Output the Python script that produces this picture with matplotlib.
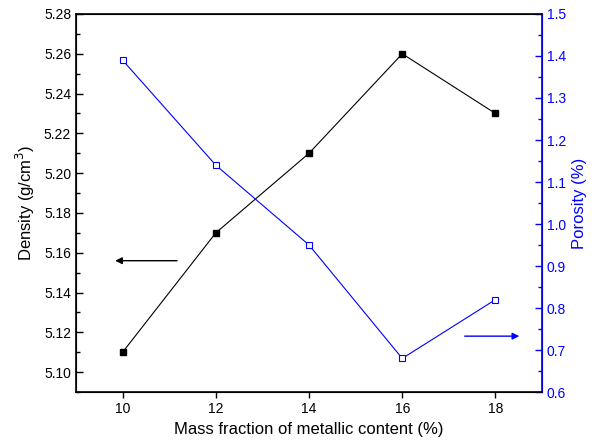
import matplotlib
matplotlib.use('Agg')
import matplotlib.pyplot as plt
from matplotlib.ticker import MultipleLocator

plt.rcParams['font.family'] = ['Liberation Sans', 'DejaVu Sans']

# ================= Data =================
mass_fraction = [10, 12, 14, 16, 18]
density = [5.11, 5.17, 5.21, 5.26, 5.23]
porosity = [1.39, 1.14, 0.95, 0.68, 0.82]

# ================= Figure =================
fig = plt.figure(figsize=(5.97, 4.47), dpi=100)
ax = fig.add_axes([0.1273, 0.123, 0.7807, 0.8457])
ax2 = ax.twinx()

ax.plot(mass_fraction, density, color='black', lw=0.8,
        marker='s', ms=5, mfc='black', mec='black')
ax2.plot(mass_fraction, porosity, color='blue', lw=0.8,
         marker='s', ms=5, mfc='white', mec='blue', mew=0.8)

# axes ranges / ticks
ax.set_xlim(9, 19)
ax.set_ylim(5.09, 5.28)
ax2.set_ylim(0.6, 1.5)
ax.set_xticks(mass_fraction)
ax.yaxis.set_major_locator(MultipleLocator(0.02))
ax.yaxis.set_minor_locator(MultipleLocator(0.01))
ax2.yaxis.set_major_locator(MultipleLocator(0.1))
ax2.yaxis.set_minor_locator(MultipleLocator(0.05))
ax.yaxis.set_major_formatter(plt.FormatStrFormatter('%.2f'))
ax2.yaxis.set_major_formatter(plt.FormatStrFormatter('%.1f'))

ax.tick_params(axis='y', which='major', direction='in', length=5, width=1, labelsize=10)
ax.tick_params(axis='y', which='minor', direction='in', length=3, width=1)
ax.tick_params(axis='x', which='major', direction='out', length=4, width=1, labelsize=10)
ax2.tick_params(axis='y', which='major', direction='in', length=5, width=1,
                colors='blue', labelsize=10)
ax2.tick_params(axis='y', which='minor', direction='in', length=3, width=1, colors='blue')

for s in ['left', 'top', 'bottom']:
    ax2.spines[s].set_linewidth(1.2)
ax2.spines['right'].set_color('blue')
ax2.spines['right'].set_linewidth(1.2)
ax2.spines['left'].set_color('black')

ax.set_xlabel('Mass fraction of metallic content (%)', fontsize=12, labelpad=4)
ax.set_ylabel('Density (g/cm$^3$)', fontsize=12, labelpad=5)
ax2.set_ylabel('Porosity (%)', fontsize=12, color='blue', labelpad=4)

# direction arrows
ax.annotate('', xy=(9.78, 5.156), xytext=(11.23, 5.156),
            arrowprops=dict(arrowstyle='-|>', color='black', lw=1, mutation_scale=10))
ax2.annotate('', xy=(18.57, 0.733), xytext=(17.28, 0.733),
             arrowprops=dict(arrowstyle='-|>', color='blue', lw=1, mutation_scale=10))

plt.savefig('out.png', dpi=100)
